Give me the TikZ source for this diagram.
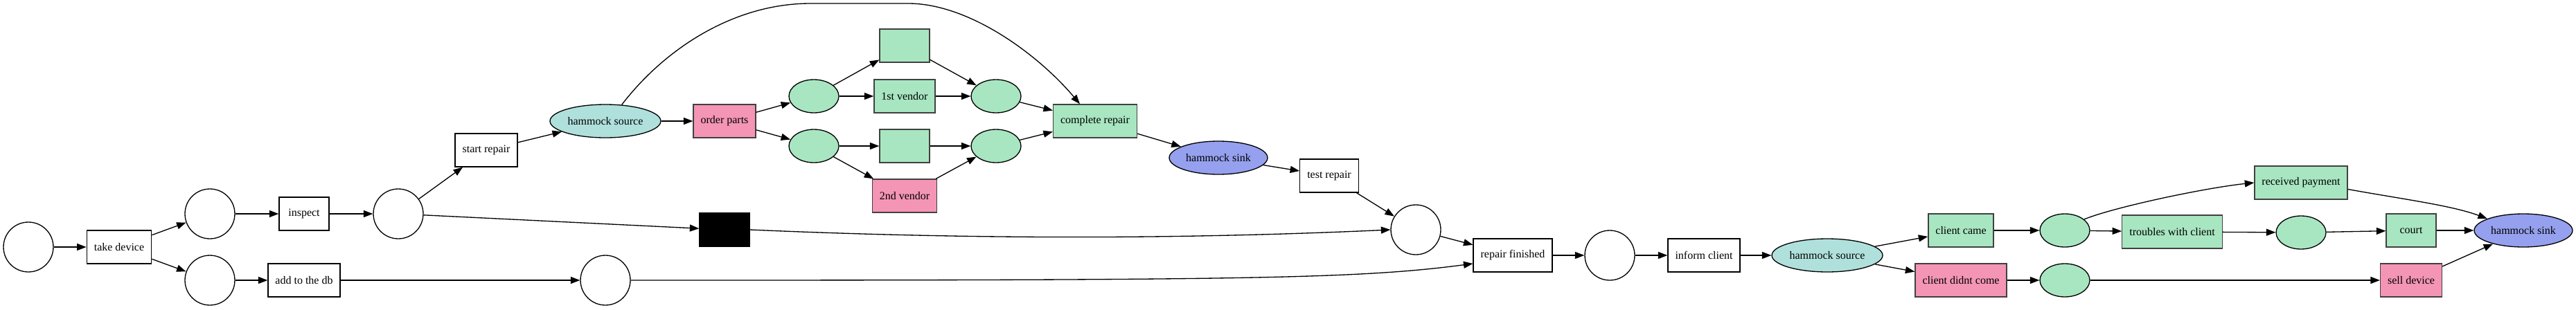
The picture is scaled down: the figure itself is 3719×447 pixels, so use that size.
\documentclass[tikz,border=0pt]{standalone}
\usepackage{fontspec}
\setmainfont{Liberation Serif}
\usepackage{tikz}
\usetikzlibrary{positioning,arrows.meta,shapes.geometric,calc}
\definecolor{hamgreen}{RGB}{168,230,193}
\definecolor{hampink}{RGB}{244,149,182}
\definecolor{hamteal}{RGB}{176,224,220}
\definecolor{hamblue}{RGB}{149,160,238}

\begin{document}
\begin{tikzpicture}[x=0.02cm,y=-0.02cm,line width=0.75pt,
            font=\fontsize{9.1}{10}\selectfont,
            place/.style={draw,circle,minimum size=1.44cm,inner sep=0pt},
            gplace/.style={draw,ellipse,fill=hamgreen,minimum width=1.44cm,
                           minimum height=0.96cm,inner sep=0pt},
            trans/.style={draw,rectangle,minimum width=1.44cm,minimum height=0.96cm,
                          inner xsep=0.21cm,inner ysep=0pt},
            gtrans/.style={trans,draw=black!75,fill=hamgreen},
            ptrans/.style={trans,draw=black!75,fill=hampink},
            silent/.style={trans,fill=black},
            hsrc/.style={draw,ellipse,fill=hamteal,minimum width=3.2cm,
                         minimum height=0.96cm,inner sep=0pt},
            hsink/.style={hsrc,fill=hamblue,minimum width=2.84cm},
            flow/.style={draw,-{Triangle[length=0.27cm,width=0.2cm]}}]
        \useasboundingbox (0,0) rectangle (3719,447);

        \node[place] (src) at (41,357) {};
        \node[trans] (take) at (172,357) {take device};
        \node[place] (p1) at (303,309) {};
        \node[place] (p2) at (303,405) {};
        \node[trans] (insp) at (439,309) {inspect};
        \node[trans] (adddb) at (439,405) {add to the db};
        \node[place] (p3) at (575,309) {};
        \node[trans] (strep) at (702,217) {start repair};
        \node[hsrc] (hs1) at (874,175) {hammock source};
        \node[ptrans] (order) at (1046,175) {order parts};
        \node[silent] (tau) at (1046,332) {};
        \node[place] (p4) at (874,405) {};
        \node[gplace] (g1) at (1175,139) {};
        \node[gplace] (g2) at (1175,211) {};
        \node[gtrans] (t1) at (1306,66) {};
        \node[gtrans] (v1) at (1306,139) {1st vendor};
        \node[gtrans] (t2) at (1306,211) {};
        \node[ptrans] (v2) at (1306,283) {2nd vendor};
        \node[gplace] (j1) at (1438,139) {};
        \node[gplace] (j2) at (1438,211) {};
        \node[gtrans] (comp) at (1581,175) {complete repair};
        \node[hsink] (hk1) at (1759,228) {hammock sink};
        \node[trans] (test) at (1919,254) {test repair};
        \node[place] (p5) at (2044,332) {};
        \node[trans] (fin) at (2184,369) {repair finished};
        \node[place] (p6) at (2324,369) {};
        \node[trans] (inform) at (2460,369) {inform client};
        \node[hsrc] (hs2) at (2638,369) {hammock source};
        \node[gtrans] (came) at (2831,333) {client came};
        \node[ptrans] (nocome) at (2831,405) {client didnt come};
        \node[gplace] (g3) at (2981,333) {};
        \node[gplace] (g4) at (2981,405) {};
        \node[gtrans] (pay) at (3322,264) {received payment};
        \node[gtrans] (trbl) at (3136,335) {troubles with client};
        \node[gplace] (g5) at (3322,336) {};
        \node[gtrans] (court) at (3481,333) {court};
        \node[ptrans] (sell) at (3481,405) {sell device};
        \node[hsink] (hk2) at (3643,333) {hammock sink};

        \draw[flow] (src) -- (take);
        \draw[flow] (take) -- (p1);
        \draw[flow] (take) -- (p2);
        \draw[flow] (p1) -- (insp);
        \draw[flow] (insp) -- (p3);
        \draw[flow] (p2) -- (adddb);
        \draw[flow] (adddb) -- (p4);
        \draw[flow] (p3) -- (strep);
        \draw[flow] (p3) -- (tau);
        \draw[flow] (strep) -- (hs1);
        \draw[flow] (hs1) -- (order);
        \draw[flow] (hs1.45) .. controls (960,70) and (1060,5) .. (1170,5)
            -- (1311,5) .. controls (1400,5) and (1500,80) .. ($(comp.north)+(-22,0)$);
        \draw[flow] (order) -- (g1);
        \draw[flow] (order) -- (g2);
        \draw[flow] (g1) -- (t1);
        \draw[flow] (g1) -- (v1);
        \draw[flow] (g2) -- (t2);
        \draw[flow] (g2) -- (v2);
        \draw[flow] (t1) -- (j1);
        \draw[flow] (v1) -- (j1);
        \draw[flow] (t2) -- (j2);
        \draw[flow] (v2) -- (j2);
        \draw[flow] (j1) -- (comp);
        \draw[flow] (j2) -- (comp);
        \draw[flow] (comp) -- (hk1);
        \draw[flow] (hk1) -- (test);
        \draw[flow] (test) -- (p5);
        \draw[flow] (tau.east) .. controls (1400,346) and (1700,346) .. (p5.west);
        \draw[flow] (p4.east) .. controls (1800,405) and (1960,403) .. ($(fin.west)+(0,12)$);
        \draw[flow] (p5) -- (fin);
        \draw[flow] (fin) -- (p6);
        \draw[flow] (p6) -- (inform);
        \draw[flow] (inform) -- (hs2);
        \draw[flow] (hs2) -- (came);
        \draw[flow] (hs2) -- (nocome);
        \draw[flow] (came) -- (g3);
        \draw[flow] (nocome) -- (g4);
        \draw[flow] (g3) -- (trbl);
        \draw[flow] (g3.30) .. controls (3050,300) and (3180,272) .. (pay.west);
        \draw[flow] (trbl) -- (g5);
        \draw[flow] (g5) -- (court);
        \draw[flow] (court) -- (hk2);
        \draw[flow] (g4) -- (sell);
        \draw[flow] (sell) -- (hk2);
        \draw[flow] (pay.-8) .. controls (3470,288) and (3540,297) .. (hk2.162);
\end{tikzpicture}
\end{document}
